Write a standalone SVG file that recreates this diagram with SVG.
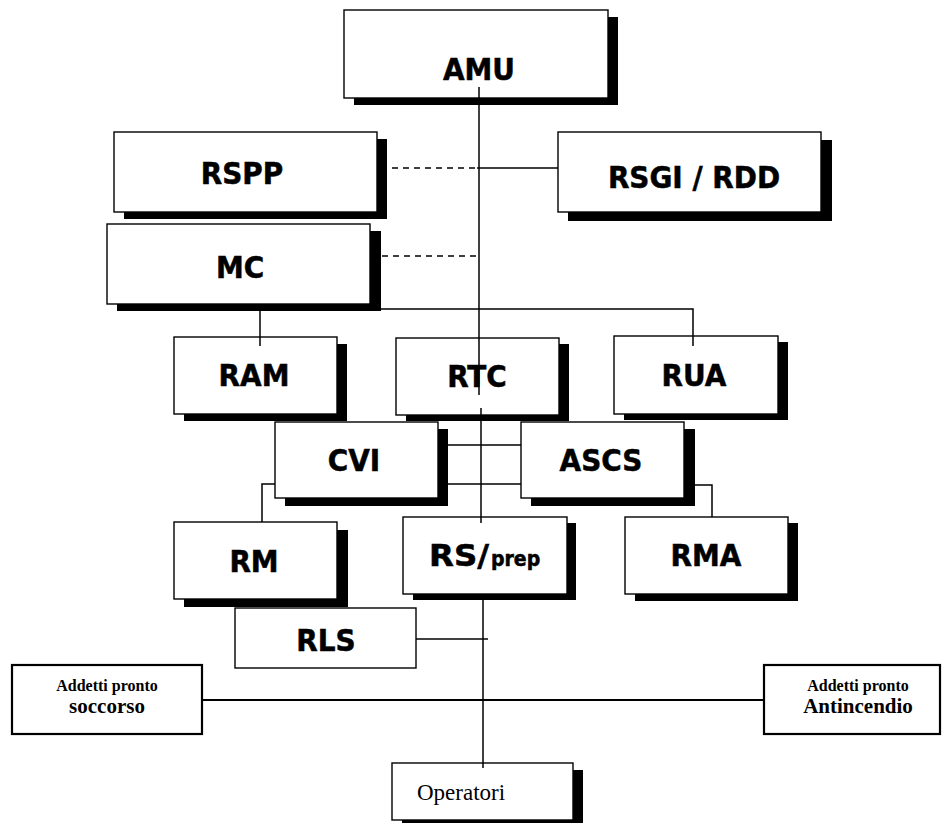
<svg xmlns="http://www.w3.org/2000/svg" width="944" height="823" viewBox="0 0 944 823">
<style>
.box{fill:#fff;stroke:#000;stroke-width:1.4}
.box2{fill:#fff;stroke:#000;stroke-width:2.2}
.sh{fill:#000}
.t{font-family:"DejaVu Sans Condensed","DejaVu Sans",sans-serif;font-stretch:condensed;font-weight:bold;font-size:31px;text-anchor:middle;fill:#000;stroke:#000;stroke-width:0.5}
.s{font-family:"Liberation Serif","Times New Roman",serif;fill:#000;text-anchor:middle}
.c{stroke:#000;stroke-width:1.5;fill:none}
.d{stroke:#000;stroke-width:1.5;fill:none;stroke-dasharray:6 5}
.c2{stroke:#000;stroke-width:2.2;fill:none}
</style>
<rect width="944" height="823" fill="#fff"/>
<g id="AMU"><rect class="sh" x="354" y="17" width="264" height="88"/><rect class="box" x="344" y="10" width="264" height="88"/><text class="t" x="479" y="80">AMU</text></g>
<g id="RSPP"><rect class="sh" x="124" y="139" width="263" height="80"/><rect class="box" x="114" y="132" width="263" height="80"/><text class="t" x="242" y="184">RSPP</text></g>
<g id="RSGI"><rect class="sh" x="568" y="140" width="264" height="81"/><rect class="box" x="558" y="132" width="263" height="80"/><text class="t" x="694" y="188">RSGI / RDD</text></g>
<g id="MC"><rect class="sh" x="117" y="231" width="264" height="80"/><rect class="box" x="107" y="224" width="263" height="80"/><text class="t" x="240" y="278">MC</text></g>
<g id="RAM"><rect class="sh" x="184" y="344" width="163" height="77"/><rect class="box" x="174" y="337" width="163" height="77"/><text class="t" x="254" y="386">RAM</text></g>
<g id="RTC"><rect class="sh" x="406" y="344" width="163" height="77"/><rect class="box" x="396" y="338" width="163" height="77"/><text class="t" x="477" y="387">RTC</text></g>
<g id="RUA"><rect class="sh" x="624" y="342" width="164" height="78"/><rect class="box" x="614" y="336" width="164" height="78"/><text class="t" x="694" y="386">RUA</text></g>
<g id="CVI"><rect class="sh" x="285" y="429" width="163" height="77"/><rect class="box" x="275" y="422" width="163" height="76"/><text class="t" x="354" y="471">CVI</text></g>
<g id="ASCS"><rect class="sh" x="531" y="429" width="164" height="77"/><rect class="box" x="521" y="422" width="163" height="76"/><text class="t" x="601" y="471">ASCS</text></g>
<g id="RM"><rect class="sh" x="184" y="530" width="164" height="77"/><rect class="box" x="174" y="522" width="163" height="77"/><text class="t" x="254" y="572">RM</text></g>
<g id="RSprep"><rect class="sh" x="413" y="523" width="163" height="77"/><rect class="box" x="403" y="517" width="164" height="77"/><text class="t" x="429" y="566" style="text-anchor:start"><tspan textLength="60" lengthAdjust="spacingAndGlyphs">RS/</tspan><tspan x="491" style="font-size:21px">prep</tspan></text></g>
<g id="RMA"><rect class="sh" x="635" y="523" width="163" height="78"/><rect class="box" x="625" y="517" width="163" height="77"/><text class="t" x="706" y="566">RMA</text></g>
<g id="RLS"><rect class="box" x="235" y="608" width="181" height="60"/><text class="t" x="326" y="651">RLS</text></g>
<g id="APS"><rect class="box2" x="12" y="665" width="190" height="69"/><text class="s" x="107" y="691" font-size="16" font-weight="bold">Addetti pronto</text><text class="s" x="107" y="713" font-size="21" font-weight="bold">soccorso</text></g>
<g id="APA"><rect class="box2" x="764" y="665" width="176" height="69"/><text class="s" x="858" y="691" font-size="16" font-weight="bold">Addetti pronto</text><text class="s" x="858" y="713" font-size="21" font-weight="bold">Antincendio</text></g>
<g id="Operatori"><rect class="sh" x="402" y="770" width="181" height="60"/><rect class="box" x="392" y="763" width="181" height="57"/><text class="s" x="417" y="800" font-size="23" style="text-anchor:start">Operatori</text></g>
<g id="connectors">
<path class="c" d="M479 87V395"/>
<path class="c" d="M481 408V523"/>
<path class="d" d="M392 168H477"/>
<path class="c" d="M477 168H558"/>
<path class="d" d="M382 256H477"/>
<path class="c" d="M381 309H693V346"/>
<path class="c" d="M260 311V346"/>
<path class="c" d="M448 445H521"/>
<path class="c" d="M448 484H521"/>
<path class="c" d="M275 484H262V522"/>
<path class="c" d="M695 485H712V517"/>
<path class="c" d="M483 600V768"/>
<path class="c" d="M416 639H488"/>
<path class="c2" d="M202 700H764"/>
</g>
</svg>
